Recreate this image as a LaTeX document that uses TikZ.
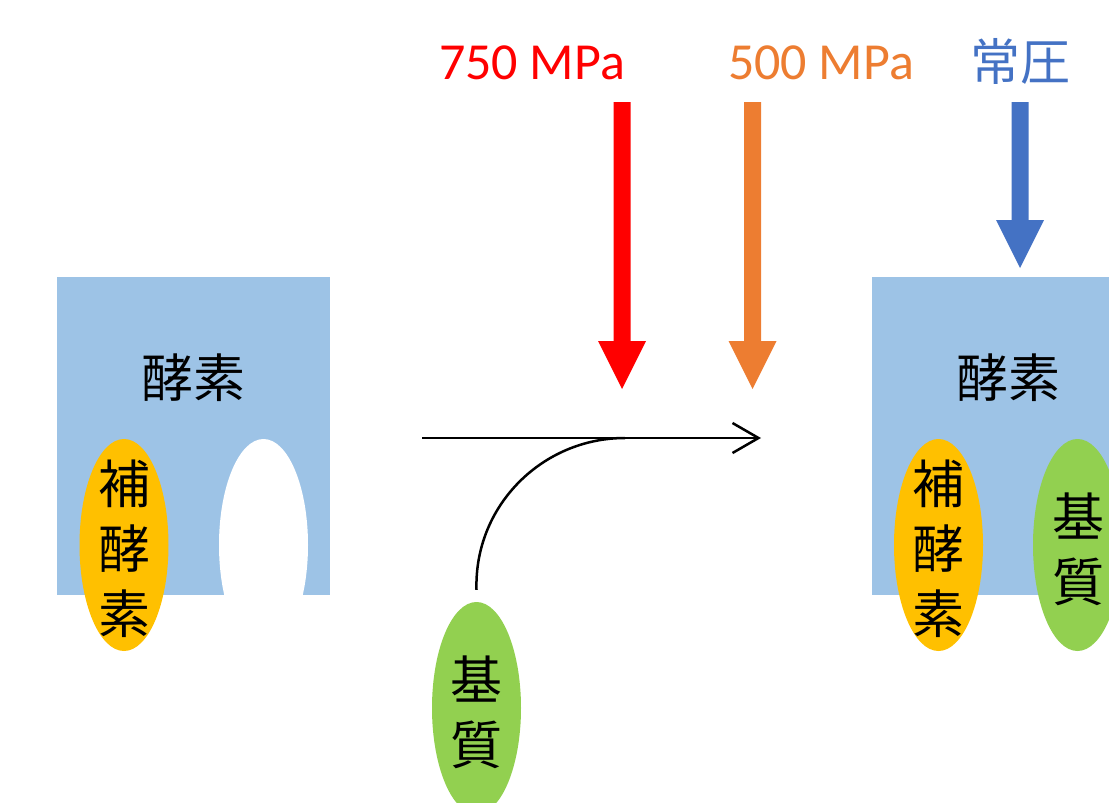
\documentclass[tikz,border=0pt]{standalone}
\usepackage{fontspec}
\setmainfont{Carlito}
\newfontfamily\jp{Noto Sans CJK JP}
\usetikzlibrary{shapes.geometric,arrows.meta}
\definecolor{boxblue}{HTML}{9DC3E6}
\definecolor{coyellow}{HTML}{FFC000}
\definecolor{subgreen}{HTML}{92D050}
\definecolor{porange}{HTML}{ED7D31}
\definecolor{pblue}{HTML}{4472C4}
\newcommand\pressarrow[4]{\fill[#1] (#2-8.5,102) -- (#2+8.5,102) -- (#2+8.5,#3) -- (#2+24,#3) -- (#2,#4) -- (#2-24,#3) -- (#2-8.5,#3) -- cycle;}
\tikzset{
  enzbox/.style={fill=boxblue, draw=none, minimum width=273pt, minimum height=318pt, inner sep=0pt, anchor=north west},
  jptext/.style={font=\jp\fontsize{52}{65}\selectfont, inner sep=0pt, align=center},
  blob/.style={ellipse, minimum width=89pt, minimum height=212pt, inner sep=0pt, draw=none},
  plabel/.style={font=\fontsize{52}{60}\selectfont, inner sep=0pt},
  flow/.style={line width=2.5pt, black},
}
\begin{document}
\begin{tikzpicture}[x=1pt,y=-1pt]
\useasboundingbox (0,0) rectangle (1109,803);
\clip (0,0) rectangle (1109,803);
% left enzyme
\node[enzbox] (enzL) at (57,277) {};
\begin{scope}
  \clip (57,277) rectangle (330,595);
  \node[blob, fill=white] (pocket) at (263.5,545) {};
\end{scope}
\node[jptext] (enzLt) at (193,378) {酵素};
\node[blob, fill=coyellow] (coL) at (124,545) {};
\node[jptext] (coLt) at (124,549) {補\\酵\\素};
% substrate
\node[blob, fill=subgreen] (sub) at (476.5,708) {};
\node[jptext] (subt) at (476.5,712) {基\\質};
% right enzyme
\node[enzbox] (enzR) at (872,277) {};
\node[jptext] (enzRt) at (1008,378) {酵素};
\node[blob, fill=coyellow] (coR) at (938.5,545) {};
\node[jptext] (coRt) at (938.5,549) {補\\酵\\素};
\node[blob, fill=subgreen] (subR) at (1077.5,545) {};
\node[jptext] (subRt) at (1078,549) {基\\質};
% reaction arrow
\coordinate (a0) at (422,438);
\coordinate (a1) at (761,438);
\coordinate (join) at (625,438);
\coordinate (c0) at ([yshift=12pt]sub.north);
\draw[flow, -{Straight Barb[length=26pt,width=30pt]}] (a0) -- (a1);
\draw[flow] (c0) .. controls (474,506) and (542,438) .. (join);
% pressure arrows
\pressarrow{red}{622}{341}{389}
\pressarrow{porange}{752.5}{341}{389}
\pressarrow{pblue}{1020}{220}{268}
\node[plabel, text=red] (p750) at (532,63) {750 MPa};
\node[plabel, text=porange] (p500) at (821,63) {500 MPa};
\node[jptext, text=pblue, font=\jp\fontsize{50}{60}\selectfont] (p0) at (1020,61) {常圧};
\end{tikzpicture}
\end{document}
